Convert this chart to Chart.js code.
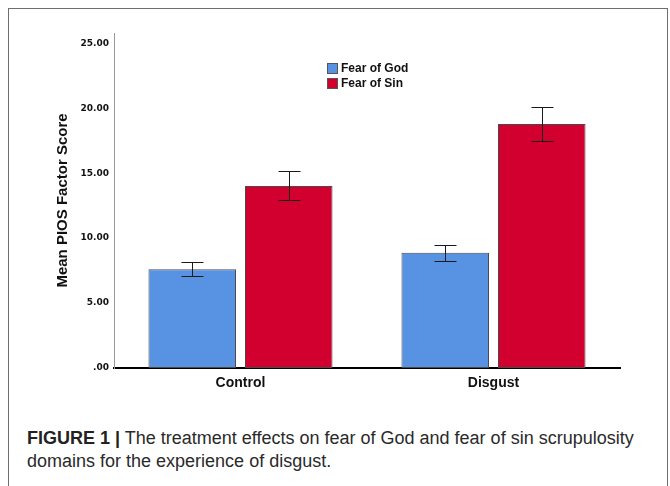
<!DOCTYPE html>
<html><head><meta charset="utf-8">
<script src="https://cdn.jsdelivr.net/npm/chart.js@4"></script>
<style>
html,body{margin:0;padding:0;background:#fff;width:670px;height:486px;overflow:hidden;}
#frame{position:absolute;left:8px;top:8px;width:660px;height:520px;border:1px solid #6e6e6e;box-sizing:border-box;}
#wrap{position:absolute;left:0;top:0;width:670px;height:400px;}
#cap{position:absolute;left:27px;top:427px;width:640px;font-family:"Liberation Sans",Arial,sans-serif;font-size:18px;line-height:23px;color:#2a2a2a;white-space:nowrap;}
#cap b{color:#222;}
</style></head><body>
<div id="frame"></div>
<div id="wrap"><canvas id="c" width="670" height="400"></canvas></div>
<div id="cap"><b>FIGURE 1 |</b> The treatment effects on fear of God and fear of sin scrupulosity<br>domains for the experience of disgust.</div>
<script>
const categories = ["Control", "Disgust"];
const seriesNames = ["Fear of God", "Fear of Sin"];
const fearOfGod = [7.6, 8.87];
const fearOfGodLow = [7.08, 8.25];
const fearOfGodHigh = [8.15, 9.48];
const fearOfSin = [14.02, 18.79];
const fearOfSinLow = [12.92, 17.46];
const fearOfSinHigh = [15.15, 20.13];
const yTicks = [0, 5, 10, 15, 20, 25];
const yTitle = "Mean PIOS Factor Score";

const errLow = [fearOfGodLow, fearOfSinLow];
const errHigh = [fearOfGodHigh, fearOfSinHigh];

const errorBars = {
  id: 'errorBars',
  afterDatasetsDraw(chart) {
    const ctx = chart.ctx, ys = chart.scales.y;
    ctx.save();
    ctx.strokeStyle = '#1a1a1a';
    ctx.lineWidth = 1;
    chart.data.datasets.forEach((ds, i) => {
      const meta = chart.getDatasetMeta(i);
      meta.data.forEach((bar, j) => {
        const x = Math.round(bar.x) + 0.5;
        const yh = Math.round(ys.getPixelForValue(errHigh[i][j])) + 0.5;
        const yl = Math.round(ys.getPixelForValue(errLow[i][j])) + 0.5;
        const hw = 11;
        ctx.beginPath();
        ctx.moveTo(x, yh); ctx.lineTo(x, yl);
        ctx.moveTo(x - hw, yh); ctx.lineTo(x + hw, yh);
        ctx.moveTo(x - hw, yl); ctx.lineTo(x + hw, yl);
        ctx.stroke();
      });
    });
    ctx.restore();
  }
};

const customLegend = {
  id: 'customLegend',
  afterDraw(chart) {
    const ctx = chart.ctx, ca = chart.chartArea;
    const x0 = ca.left + 213, y0 = ca.top + 30;
    ctx.save();
    ctx.font = 'bold 12px "Liberation Sans", Arial, sans-serif';
    ctx.textBaseline = 'middle';
    chart.data.datasets.forEach((ds, i) => {
      const y = y0 + i * 15;
      ctx.fillStyle = ds.backgroundColor;
      ctx.fillRect(x0, y, 11, 11);
      ctx.strokeStyle = '#555';
      ctx.lineWidth = 1;
      ctx.strokeRect(x0 + 0.5, y + 0.5, 10, 10);
      ctx.fillStyle = '#111';
      ctx.fillText(ds.label, x0 + 14, y + 6);
    });
    ctx.restore();
  }
};

new Chart(document.getElementById('c'), {
  type: 'bar',
  data: {
    labels: categories,
    datasets: [
      { label: seriesNames[0], data: fearOfGod, backgroundColor: 'rgb(88,146,226)', borderColor: '#4a4a4a', borderWidth: 1, borderSkipped: false, barPercentage: 0.907, categoryPercentage: 0.763 },
      { label: seriesNames[1], data: fearOfSin, backgroundColor: 'rgb(209,0,47)', borderColor: '#4a4a4a', borderWidth: 1, borderSkipped: false, barPercentage: 0.907, categoryPercentage: 0.763 }
    ]
  },
  options: {
    responsive: false,
    animation: false,
    devicePixelRatio: 1,
    layout: { padding: { left: 0, right: 50, top: 33, bottom: 0 } },
    plugins: { legend: { display: false }, tooltip: { enabled: false } },
    scales: {
      x: {
        grid: { display: false, drawTicks: false, tickLength: 0 },
        border: { display: true, color: '#000', width: 2 },
        ticks: { color: '#111', padding: 7, font: { family: '"Liberation Sans", Arial, sans-serif', size: 14, weight: 'bold' } },
        afterFit(s) { s.height = 32; }
      },
      y: {
        min: 0, max: 25.8,
        grid: { display: false, drawTicks: false, tickLength: 0 },
        border: { display: true, color: '#999', width: 1 },
        afterBuildTicks(s) { s.ticks = yTicks.map(v => ({ value: v })); },
        ticks: {
          color: '#111', padding: 5,
          font: { family: '"DejaVu Sans", sans-serif', size: 9, weight: 'bold' },
          callback: v => v === 0 ? '.00' : Number(v).toFixed(2)
        },
        title: {
          display: true, text: yTitle, color: '#111',
          padding: { top: 54, bottom: 0 },
          font: { family: '"Liberation Sans", Arial, sans-serif', size: 15, weight: 'bold' }
        },
        afterFit(s) { s.width = 114; }
      }
    }
  },
  plugins: [errorBars, customLegend]
});
</script>
</body></html>
